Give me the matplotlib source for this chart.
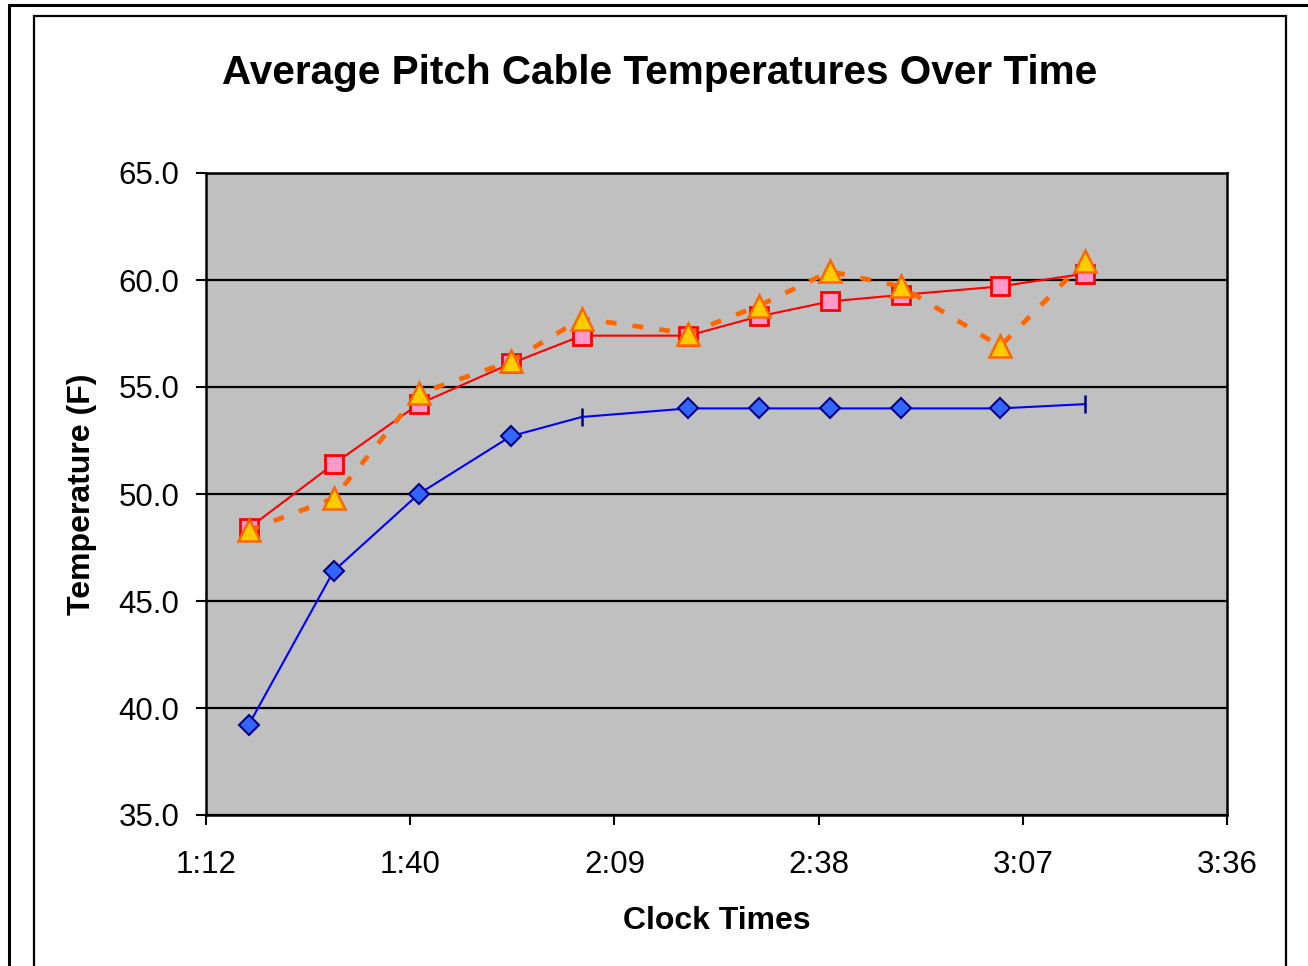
import matplotlib.pyplot as plt
from matplotlib.patches import Rectangle

plt.rcParams['font.family'] = ['Liberation Sans', 'DejaVu Sans']

# clock times in minutes after midnight
times = [78, 90, 102, 115, 125, 140, 150, 160, 170, 184, 196]
blue_temps = [39.2, 46.4, 50.0, 52.7, 53.6, 54.0, 54.0, 54.0, 54.0, 54.0, 54.2]
red_temps = [48.4, 51.4, 54.2, 56.1, 57.4, 57.4, 58.3, 59.0, 59.3, 59.7, 60.3]
orange_temps = [48.3, 49.8, 54.7, 56.2, 58.2, 57.5, 58.8, 60.4, 59.7, 56.9, 60.9]

xticks = [72, 100.8, 129.6, 158.4, 187.2, 216]
xtick_labels = ['1:12', '1:40', '2:09', '2:38', '3:07', '3:36']
yticks = [35, 40, 45, 50, 55, 60, 65]

fig = plt.figure(figsize=(13.08, 9.66), dpi=100)

# outer frames of the chart area
fig.patches.append(Rectangle((9 / 1308, -0.1), 1.2, 1.1 - 5 / 966, transform=fig.transFigure,
                             fill=False, edgecolor='black', lw=2.2))
fig.patches.append(Rectangle((34 / 1308, -0.1), (1286 - 34) / 1308, 1.1 - 16 / 966,
                             transform=fig.transFigure, fill=False, edgecolor='black', lw=1.6))

ax = fig.add_axes([206 / 1308, 1 - 815 / 966, (1227 - 206) / 1308, (815 - 173) / 966])
ax.set_facecolor('#c0c0c0')

ax.plot(times, blue_temps, color='#0000ff', lw=1.5, marker='D', markersize=10.5,
        markerfacecolor='#3366ff', markeredgecolor='#000080', markeredgewidth=1.5,
        markevery=[0, 1, 2, 3, 5, 6, 7, 8, 9], zorder=3)
ax.plot(times, blue_temps, linestyle='none', marker='|', markersize=13,
        markeredgecolor='#000080', markeredgewidth=1.8, markevery=[4, 10], zorder=3)

ax.plot(times, red_temps, color='#ff0000', lw=1.5, marker='s', markersize=12.5,
        markerfacecolor='#ff99cc', markeredgecolor='#ff0000', markeredgewidth=2, zorder=4)

ax.plot(times, orange_temps, color='#ff6600', lw=3.4, dashes=(2.3, 3.4), marker='^',
        markersize=16, markerfacecolor='#ffcc00', markeredgecolor='#ff6600',
        markeredgewidth=1.8, zorder=5)

ax.set_xlim(72, 216)
ax.set_ylim(35, 65)
ax.set_xticks(xticks)
ax.set_xticklabels(xtick_labels)
ax.set_yticks(yticks)
ax.set_yticklabels([f'{v:.1f}' for v in yticks])
ax.yaxis.grid(True, color='black', lw=1.6)
ax.set_axisbelow(True)
for s in ax.spines.values():
    s.set_linewidth(1.8)
ax.tick_params(direction='out', length=7, width=1.5, labelsize=22.5, pad=18)
ax.tick_params(axis='y', pad=12)

fig.text(660 / 1308, 1 - 73 / 966, 'Average Pitch Cable Temperatures Over Time',
         fontsize=29.2, fontweight='bold', ha='center', va='center')
ax.set_xlabel('Clock Times', fontsize=23, fontweight='bold', labelpad=19)
ax.set_ylabel('Temperature (F)', fontsize=23, fontweight='bold', labelpad=16)

fig.savefig('out.png', dpi=100)
